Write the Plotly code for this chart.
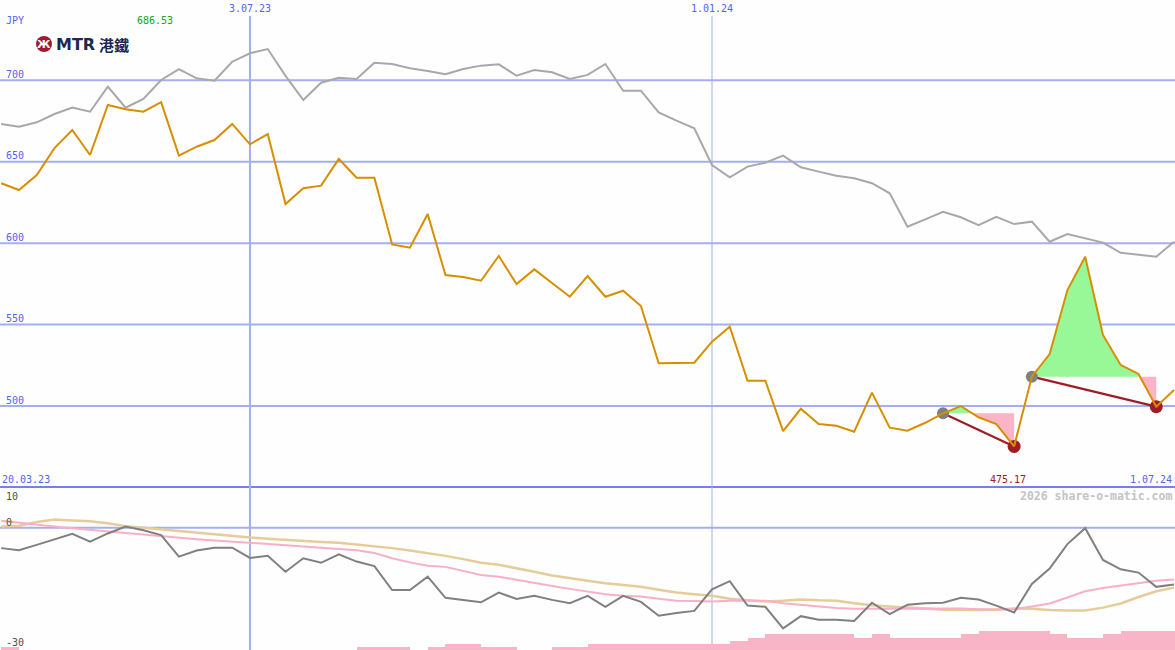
import plotly.graph_objects as go
import pandas as pd

# ---------------- data ----------------
start_date = "2023-03-27"
n_weeks = 67
dates = pd.date_range(start_date, periods=n_weeks, freq="7D")

price = [636.8, 632.6, 641.8, 658.4, 669.5, 654.1, 684.8, 682.2, 680.7, 686.53,
         653.7, 659.2, 663.3, 673.2, 660.7, 667.0, 624.0, 633.7, 635.3, 651.7,
         640.2, 640.2, 599.2, 597.2, 617.9, 580.4, 579.2, 576.9, 592.1, 574.9,
         583.9, 575.3, 567.1, 579.8, 567.1, 570.8, 561.4, 526.2, 526.6, 526.6,
         539.5, 548.7, 515.5, 515.5, 484.6, 498.3, 488.9, 487.9, 484.2, 508.2,
         486.7, 484.8, 489.7, 495.5, 500.0, 493.1, 488.9, 475.17, 518.0, 531.9,
         571.2, 591.7, 543.6, 525.2, 519.7, 499.6, 509.8]

index_line = [673.2, 671.5, 674.2, 679.3, 683.2, 680.7, 696.1, 683.2, 688.5, 700.2,
              706.9, 701.2, 699.7, 711.4, 716.6, 719.2, 702.7, 687.9, 698.5, 701.6,
              700.8, 710.8, 710.0, 707.4, 705.7, 703.7, 706.9, 709.0, 709.8, 702.8,
              706.3, 704.9, 700.8, 703.3, 710.0, 693.6, 693.6, 680.3, 675.2, 670.5,
              648.0, 640.4, 647.0, 649.4, 653.7, 646.6, 643.9, 641.4, 639.8, 636.8,
              630.6, 610.1, 614.6, 619.3, 615.9, 611.1, 616.2, 611.7, 613.2, 600.9,
              605.6, 603.0, 600.3, 594.1, 592.7, 591.7, 600.9]

oscillator = [-5.0, -5.5, -4.2, -2.8, -1.5, -3.4, -1.4, 0.3, -0.6, -1.8,
              -7.1, -5.6, -4.9, -4.9, -7.4, -6.9, -10.8, -7.5, -8.6, -6.5,
              -8.3, -9.4, -15.3, -15.3, -12.0, -17.2, -17.7, -18.3, -15.9, -17.5,
              -16.7, -17.7, -18.5, -16.7, -19.4, -16.7, -18.2, -21.6, -20.9, -20.4,
              -15.1, -13.1, -19.1, -19.4, -24.7, -21.7, -22.6, -22.6, -22.9, -18.4,
              -21.2, -18.9, -18.5, -18.4, -17.2, -17.6, -19.1, -20.8, -13.8, -10.0,
              -4.0, -0.1, -7.9, -10.2, -11.0, -14.5, -13.9]

osc_fast = [1.7, 1.2, 0.7, 0.3, -0.1, -0.5, -0.8, -1.2, -1.6, -2.0,
            -2.4, -2.8, -3.1, -3.4, -3.7, -4.0, -4.3, -4.6, -4.9, -5.1,
            -5.5, -6.2, -7.5, -8.5, -9.3, -9.6, -10.6, -11.6, -12.0, -12.8,
            -13.5, -14.3, -15.0, -15.7, -16.3, -16.7, -16.9, -17.4, -17.9, -18.0,
            -18.1, -17.9, -17.9, -17.9, -18.5, -18.9, -19.4, -19.7, -19.9, -19.9,
            -19.9, -19.9, -19.9, -19.9, -19.8, -20.0, -20.0, -20.0, -19.3, -18.6,
            -17.1, -15.6, -14.8, -14.2, -13.6, -13.0, -12.7]

osc_slow = [0.3, 0.5, 1.4, 2.0, 1.8, 1.6, 1.1, 0.4, 0.0, -0.4,
            -0.8, -1.3, -1.7, -2.1, -2.4, -2.7, -3.0, -3.3, -3.5, -3.7,
            -4.1, -4.6, -5.0, -5.6, -6.2, -6.9, -7.7, -8.6, -9.1, -9.9,
            -10.8, -11.7, -12.4, -13.0, -13.6, -14.1, -14.5, -15.2, -15.9, -16.3,
            -16.7, -17.4, -17.8, -18.1, -17.9, -17.6, -17.8, -17.9, -18.5, -19.0,
            -19.3, -19.5, -19.8, -20.1, -20.2, -20.2, -20.1, -19.8, -19.9, -20.2,
            -20.3, -20.3, -19.6, -18.6, -17.0, -15.6, -14.7]

bar_levels = [1] + [0] * 19 + [1, 1, 1, 0, 1, 2, 2, 1, 1, 0, 0, 1, 1] + [2] * 8 + \
             [3, 4, 5, 5, 5, 5, 5, 4, 5, 4, 4, 4, 4, 5, 6, 6, 6, 6, 5, 4, 4, 5, 6, 6, 6, 6]

pattern_start = [53, 58]   # grey dots
pattern_end = [57, 65]     # red dots

price_gridlines = [500, 550, 600, 650, 700]
vlines = ["2023-07-03", "2024-01-01"]
vline_labels = ["3.07.23", "1.01.24"]
vline_widths = [2, 1]
max_label = "686.53"
min_label = "475.17"
left_date_label = "20.03.23"
right_date_label = "1.07.24"
osc_labels = ["10", "0", "-30"]

# ---------------- geometry ----------------
W, H = 1175, 650
split = 163 / 650.0
BLUE = "#5464f4"
GRID = "#a4aef0"
MONO = "DejaVu Sans Mono, Liberation Mono, monospace"


def px(x):
    return x / W


def py(y):
    return 1 - y / H


fig = go.Figure()

# ---------------- bars (bottom panel, base axis) ----------------
bar_x = [d + pd.Timedelta(hours=84) for d in dates]
fig.add_trace(go.Bar(x=bar_x, y=bar_levels, yaxis="y2", marker=dict(color="#f9b4c8", line=dict(width=0)),
                     width=7 * 86400000, showlegend=False))

# ---------------- oscillator lines ----------------
fig.add_trace(go.Scatter(x=dates, y=osc_slow, yaxis="y3", mode="lines",
                         line=dict(color="#e6cc9a", width=2.5, shape="linear"), showlegend=False))
fig.add_trace(go.Scatter(x=dates, y=osc_fast, yaxis="y3", mode="lines",
                         line=dict(color="#f8b0c8", width=2), showlegend=False))
fig.add_trace(go.Scatter(x=dates, y=oscillator, yaxis="y3", mode="lines",
                         line=dict(color="#808080", width=2), showlegend=False))

# ---------------- top panel ----------------
fig.add_trace(go.Scatter(x=dates, y=index_line, yaxis="y", mode="lines",
                         line=dict(color="#a8a8a8", width=2), showlegend=False))


def pattern_polys(i0, i1):
    level = price[i0]
    ts = [dates[i].value for i in range(i0, i1 + 1)]
    vs = price[i0:i1 + 1]
    pts = []
    for j in range(len(vs)):
        pts.append((ts[j], vs[j]))
        if j < len(vs) - 1 and (vs[j] - level) * (vs[j + 1] - level) < 0:
            f = (level - vs[j]) / (vs[j + 1] - vs[j])
            pts.append((ts[j] + f * (ts[j + 1] - ts[j]), level))
    xs = [pd.Timestamp(int(t)) for t, _ in pts]
    up = [max(v, level) for _, v in pts]
    dn = [min(v, level) for _, v in pts]
    base = [level] * len(xs)
    poly_x = xs + xs[::-1]
    return poly_x, up + base[::-1], dn + base[::-1]


for s, e in zip(pattern_start, pattern_end):
    pxs, up, dn = pattern_polys(s, e)
    fig.add_trace(go.Scatter(x=pxs, y=up, yaxis="y", mode="lines", fill="toself",
                             fillcolor="#98f898", line=dict(width=0), showlegend=False))
    fig.add_trace(go.Scatter(x=pxs, y=dn, yaxis="y", mode="lines", fill="toself",
                             fillcolor="#f9b4c8", line=dict(width=0), showlegend=False))

for s, e in zip(pattern_start, pattern_end):
    fig.add_trace(go.Scatter(x=[dates[s], dates[e]], y=[price[s], price[e]], yaxis="y", mode="lines",
                             line=dict(color="#a01c28", width=2.2), showlegend=False))

fig.add_trace(go.Scatter(x=[dates[i] for i in pattern_start], y=[price[i] for i in pattern_start],
                         yaxis="y", mode="markers", marker=dict(color="#808080", size=12, line=dict(width=0)),
                         showlegend=False))
fig.add_trace(go.Scatter(x=[dates[i] for i in pattern_end], y=[price[i] for i in pattern_end],
                         yaxis="y", mode="markers", marker=dict(color="#a01c24", size=13, line=dict(width=0)),
                         showlegend=False))

fig.add_trace(go.Scatter(x=dates, y=price, yaxis="y", mode="lines",
                         line=dict(color="#d68f00", width=2), showlegend=False))

# ---------------- shapes ----------------
shapes = []
for v in price_gridlines:
    shapes.append(dict(type="line", xref="paper", yref="y", x0=0, x1=1, y0=v, y1=v,
                       line=dict(color=GRID, width=2), layer="below"))
shapes.append(dict(type="line", xref="paper", yref="y3", x0=0, x1=1, y0=0, y1=0,
                   line=dict(color=GRID, width=2), layer="below"))
shapes.append(dict(type="line", xref="paper", yref="paper", x0=0, x1=1, y0=split, y1=split,
                   line=dict(color="#7282ea", width=2), layer="below"))
for d, w in zip(vlines, vline_widths):
    shapes.append(dict(type="line", xref="x", yref="paper", x0=d, x1=d, y0=0, y1=py(16),
                       line=dict(color=GRID, width=w), layer="below"))
# logo circle
shapes.append(dict(type="circle", xref="paper", yref="paper", x0=px(36), x1=px(52), y0=py(52), y1=py(36),
                   fillcolor="#9e1b32", line=dict(width=0)))

# ---------------- annotations ----------------
ann = []


def label(text, x, y, color, anchor="left", size=10, family=MONO):
    ann.append(dict(text=text, xref="paper", yref="paper", x=px(x), y=py(y), xanchor=anchor,
                    yanchor="middle", showarrow=False, font=dict(family=family, size=size, color=color),
                    borderpad=0))


label("JPY", 5, 21, BLUE)
label(max_label, 136, 21, "#22a022")
for d, t in zip(vlines, vline_labels):
    ann.append(dict(text=t, xref="x", yref="paper", x=d, y=py(9), xanchor="center", yanchor="middle",
                    showarrow=False, font=dict(family=MONO, size=10, color=BLUE), borderpad=0))
for v in price_gridlines:
    ann.append(dict(text=str(v), xref="paper", yref="y", x=px(5), y=v, xanchor="left", yanchor="middle",
                    yshift=6, showarrow=False, font=dict(family=MONO, size=10, color=BLUE), borderpad=0))
label(left_date_label, 1, 479, BLUE)
label(min_label, 1008, 479, "#a01c1c", anchor="center")
label(right_date_label, 1173, 479, BLUE, anchor="right")
label("<b>2026 share-o-matic.com</b>", 1173, 496, "#c4c4c4", anchor="right", size=11.5)
label(osc_labels[0], 5, 496, "#505050")
label(osc_labels[1], 5, 522, "#505050")
label(osc_labels[2], 5, 642, "#505050")
# logo text
label("<b>Ж</b>", 44, 44.5, "white", anchor="center", size=11, family="DejaVu Sans")
label("<b>MTR</b>", 55, 45, "#1d2951", size=16, family="DejaVu Sans")
label("<b>港鐵</b>", 98, 45, "#1d2951", size=15, family="Noto Sans CJK TC")

fig.update_layout(
    width=W, height=H,
    margin=dict(l=0, r=0, t=0, b=0),
    paper_bgcolor="#fdfefd", plot_bgcolor="#fdfefd",
    showlegend=False, bargap=0,
    xaxis=dict(type="date", range=["2023-03-26 12:40", "2024-07-01 09:10"], visible=False,
               showgrid=False, zeroline=False, domain=[0, 1]),
    yaxis=dict(domain=[split, 1], range=[450.26, 749.3], visible=False, showgrid=False, zeroline=False),
    yaxis2=dict(domain=[0, split], range=[0, 52.5], visible=False, showgrid=False, zeroline=False),
    yaxis3=dict(overlaying="y2", range=[-30, 10], visible=False, showgrid=False, zeroline=False),
    shapes=shapes, annotations=ann,
)

fig.write_html("out.html", config={"displayModeBar": False},
               post_script="document.body.style.margin='0';document.body.style.padding='0';"
                           "document.body.style.overflow='hidden';")
